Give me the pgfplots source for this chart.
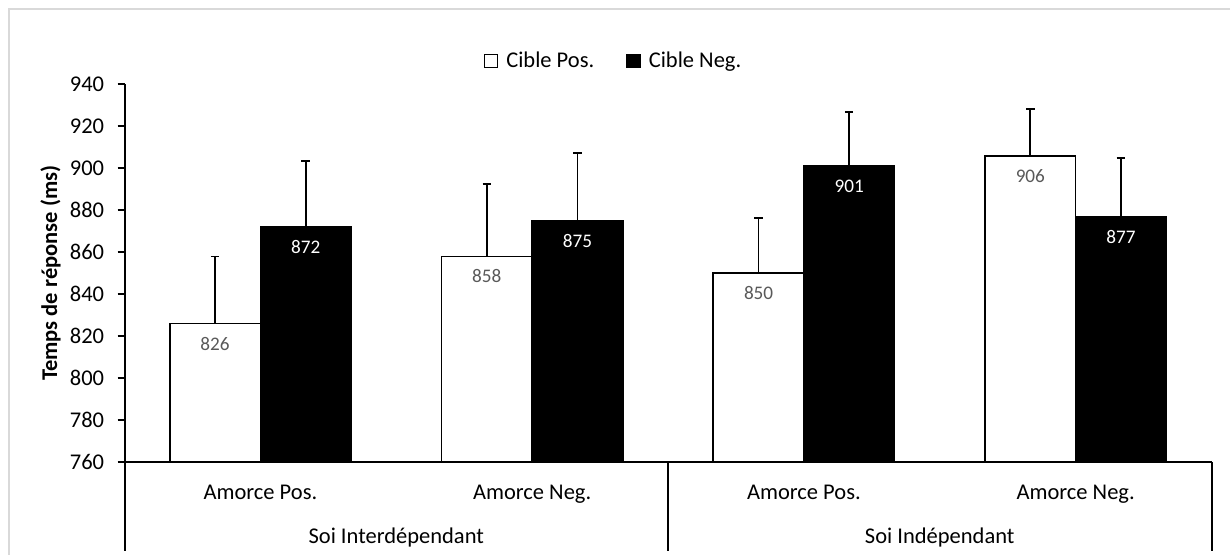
\documentclass[border=0pt]{standalone}
\usepackage{fontspec}
\setmainfont{Carlito}
\usepackage{pgfplots}
\pgfplotsset{compat=1.18}
\definecolor{lblgray}{HTML}{595959}
\definecolor{bordergray}{HTML}{D9D9D9}
\begin{document}
\begin{tikzpicture}[font=\fontsize{11.25}{13.5}\selectfont]
\useasboundingbox (0,0) rectangle (615pt,277.5pt);
\fill[white] (0,0) rectangle (615pt,277.5pt);
\draw[bordergray, line width=1.2pt] (4.5pt,-1pt) -- (4.5pt,273pt) -- (616pt,273pt);
\begin{axis}[
  at={(62.25pt,46.5pt)}, anchor=south west,
  scale only axis, width=543.5pt, height=188.75pt,
  clip=false,
  ymin=760, ymax=940, ytick={760,780,800,820,840,860,880,900,920,940},
  xmin=-0.5, xmax=3.5, xtick={0,1,2,3},
  xticklabels={Amorce Pos., Amorce Neg., Amorce Pos., Amorce Neg.},
  ybar=0pt, bar width=0.3333,
  axis x line*=bottom, axis y line*=left,
  axis line style={line width=1pt, -},
  x tick style={draw=none},
  y tick style={line width=1pt, black},
  ytick align=outside, major tick length=3.5pt,
  /pgf/number format/assume math mode=true,
  tick label style={font=\fontsize{11.25}{13.5}\selectfont},
  xticklabel style={anchor=base, yshift=-15.25pt},
  yticklabel style={anchor=east, inner sep=0pt, xshift=-6.5pt},
  ylabel={\bfseries Temps de réponse (ms)},
  ylabel style={at={(axis description cs:-0.068,0.5)}, anchor=center},
  legend style={at={(axis description cs:0.4508,1.062)}, anchor=center, draw=none,
    legend columns=2, /tikz/every even column/.append style={column sep=14pt},
    font=\fontsize{11.25}{13.5}\selectfont},
  legend image code/.code={\draw[#1, line width=0.7pt] (0pt,-3.25pt) rectangle (6.5pt,3.25pt); \path (8.5pt,0pt);},
]
\addplot[fill=white, draw=black, line width=0.85pt,
  nodes near coords,
  every node near coord/.append style={text=lblgray, font=\fontsize{9.6}{11}\selectfont, anchor=center, yshift=-10pt},
  error bars/.cd, y dir=plus, y explicit, error mark=-,
  error bar style={line width=0.9pt, black},
  error mark options={rotate=90, line width=0.9pt, mark size=2.1pt, black}]
coordinates {(0,826) +- (0,32) (1,858) +- (0,34.4) (2,850) +- (0,26.5) (3,906) +- (0,22.3)};
\addlegendentry{Cible Pos.}
\addplot[fill=black, draw=black, line width=0.85pt,
  nodes near coords,
  every node near coord/.append style={text=white, font=\fontsize{9.6}{11}\selectfont, anchor=center, yshift=-10pt},
  error bars/.cd, y dir=plus, y explicit, error mark=-,
  error bar style={line width=0.9pt, black},
  error mark options={rotate=90, line width=0.9pt, mark size=2.1pt, black}]
coordinates {(0,872) +- (0,31.5) (1,875) +- (0,32.3) (2,901) +- (0,25.7) (3,877) +- (0,28)};
\addlegendentry{Cible Neg.}
\draw[line width=1pt] (axis cs:-0.5,760) -- (axis cs:-0.5,717.6);
\draw[line width=1pt] (axis cs:1.5,760) -- (axis cs:1.5,717.6);
\draw[line width=1pt] (axis cs:3.5,760) -- (axis cs:3.5,717.6);
\node[anchor=base] at (axis cs:0.5,760) [yshift=-41pt] {Soi Interdépendant};
\node[anchor=base] at (axis cs:2.5,760) [yshift=-41pt] {Soi Indépendant};
\end{axis}
\end{tikzpicture}
\end{document}
